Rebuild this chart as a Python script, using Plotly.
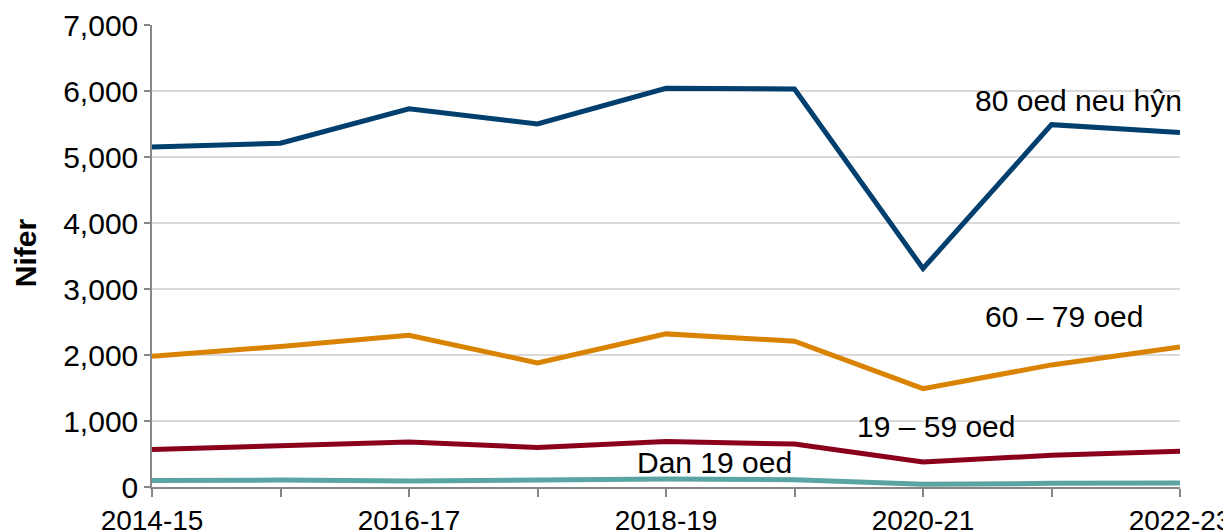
import plotly.graph_objects as go

categories = ["2014-15", "2015-16", "2016-17", "2017-18", "2018-19",
              "2019-20", "2020-21", "2021-22", "2022-23"]
tick_labels = ["2014-15", "", "2016-17", "", "2018-19", "", "2020-21", "", "2022-23"]

age_80_plus = [5150, 5210, 5730, 5500, 6040, 6030, 3310, 5490, 5370]
age_60_79 = [1980, 2130, 2300, 1880, 2320, 2210, 1490, 1850, 2120]
age_19_59 = [570, 620, 680, 600, 690, 650, 380, 480, 540]
age_under_19 = [100, 105, 90, 100, 120, 110, 40, 55, 60]

series_names = ["80 oed neu hŷn", "60 – 79 oed", "19 – 59 oed", "Dan 19 oed"]
series_values = [age_80_plus, age_60_79, age_19_59, age_under_19]
colors = ["#003f6e", "#da8300", "#8a001c", "#5aa4a4"]
label_pos = [(7.21, 5850), (7.10, 2590), (6.10, 910), (4.38, 364)]

FONT = "Liberation Sans, Arial"

fig = go.Figure()
for name, vals, col in zip(series_names, series_values, colors):
    fig.add_trace(go.Scatter(x=categories, y=vals, mode="lines", name=name,
                             line=dict(color=col, width=5)))

annotations = []
for name, (ax, ay) in zip(series_names, label_pos):
    annotations.append(dict(x=ax, y=ay, xref="x", yref="y", text=name,
                            showarrow=False,
                            font=dict(family=FONT, size=30, color="#000000")))
# y-axis title
annotations.append(dict(x=-0.1235, y=0.506, xref="paper", yref="paper",
                        text="<b>Nifer</b>", textangle=-90, showarrow=False,
                        xanchor="center", yanchor="middle",
                        font=dict(family=FONT, size=30, color="#000000")))

# page body has an 8px default margin; size the figure to fit the window
fig.update_layout(
    width=1223, height=523,
    margin=dict(l=144, r=51, t=17, b=44, pad=0),
    paper_bgcolor="white", plot_bgcolor="white",
    showlegend=False,
    annotations=annotations,
    font=dict(family=FONT, color="#000000"),
)
fig.update_xaxes(type="category", range=[0, 8], tickmode="array",
                 tickvals=categories, ticktext=tick_labels, automargin=False,
                 ticks="outside", ticklen=8, tickcolor="#868686", tickwidth=1.5,
                 showline=True, linecolor="#868686", linewidth=1.5,
                 showgrid=False, tickfont=dict(size=28, color="#000000"))
fig.update_yaxes(range=[0, 7000], dtick=1000, tickformat=",d", automargin=False,
                 ticks="outside", ticklen=6, tickcolor="#868686", tickwidth=1.5,
                 showline=True, linecolor="#868686", linewidth=1.5,
                 showgrid=True, gridcolor="#d9d9d9", gridwidth=1.5,
                 zeroline=False, tickfont=dict(size=30, color="#000000"))

fig.write_html("out.html")
